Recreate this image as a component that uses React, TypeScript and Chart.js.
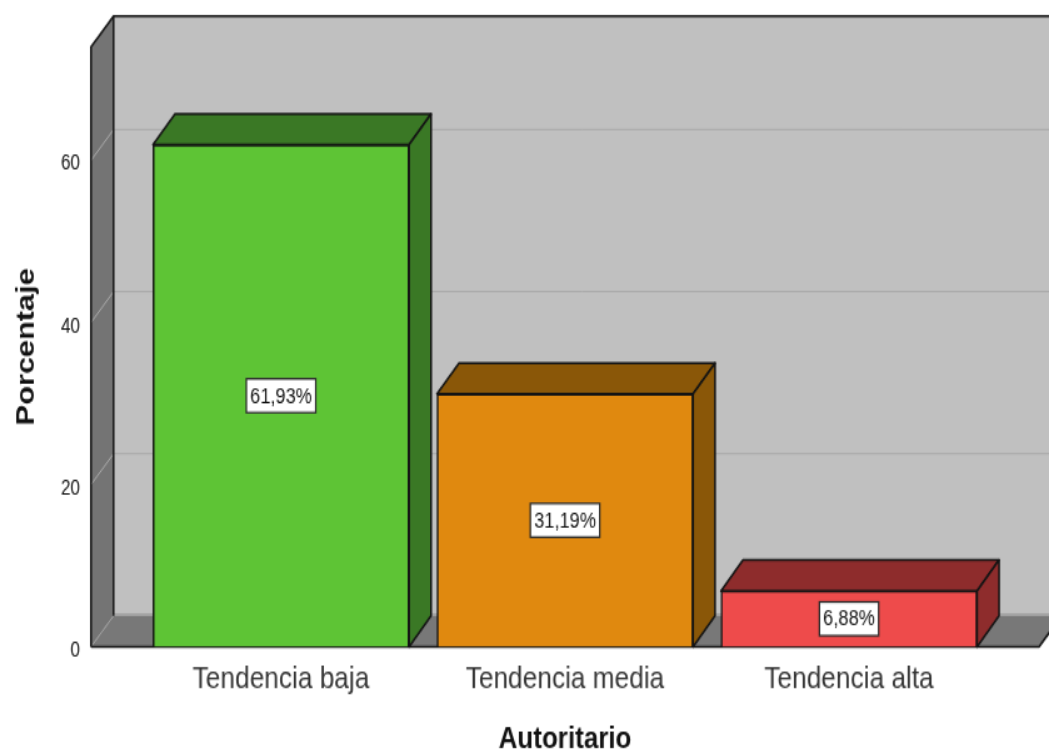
import React, { useEffect, useRef } from "react";
import { Chart, registerables } from "chart.js";

Chart.register(...registerables);

const categories = ["Tendencia baja", "Tendencia media", "Tendencia alta"];
const percentages = [61.93, 31.19, 6.88];
const frontColors = ["#5EC435", "#E0890F", "#EE4B4B"];
const sideColors = ["#3A7825", "#8A5708", "#8E2C2C"];
const yTickValues = [0, 20, 40, 60];
const xPositions = [0, 1, 2];

// The chart is drawn on a smaller canvas and stretched by CSS to the page size,
// which gives the same tall, soft look as the reference picture.
const CANVAS_W = 839;
const CANVAS_H = 501;
const DEPTH_X = 18;
const DEPTH_Y = 20.6;
const BAR_DEPTH_X = 17.6;
const FONT = '"Liberation Sans", Arial, sans-serif';

const poly = (ctx: CanvasRenderingContext2D, pts: number[][], fill: string | null, stroke?: string, lw = 1.5) => {
  ctx.beginPath();
  pts.forEach(([x, y], i) => (i ? ctx.lineTo(x, y) : ctx.moveTo(x, y)));
  if (fill) {
    ctx.closePath();
    ctx.fillStyle = fill;
    ctx.fill();
  }
  if (stroke) {
    ctx.strokeStyle = stroke;
    ctx.lineWidth = lw;
    ctx.lineJoin = "round";
    ctx.stroke();
  }
};

const box3d = {
  id: "box3d",
  beforeDraw(chart: any) {
    const { ctx, chartArea: a, scales } = chart;
    const { left: l, right: r, top: t, bottom: b } = a;
    const dx = DEPTH_X;
    const dy = DEPTH_Y;
    ctx.save();
    ctx.fillStyle = "#FFFFFF";
    ctx.fillRect(0, 0, chart.width, chart.height);
    poly(ctx, [[l + dx, t - dy], [r + dx, t - dy], [r + dx, b - dy], [l + dx, b - dy]], "#C0C0C0");
    poly(ctx, [[l, t], [l + dx, t - dy], [l + dx, b - dy], [l, b]], "#747474");
    poly(ctx, [[l, b], [l + dx, b - dy], [r + dx, b - dy], [r, b]], "#787878");
    ctx.fillStyle = "#9C9C9C";
    ctx.fillRect(l + dx, b - dy - 1.5, r - l, 1.5);
    for (const v of yTickValues) {
      if (v === 0) continue;
      const y = scales.y.getPixelForValue(v);
      poly(ctx, [[l, y], [l + dx, y - dy], [r + dx, y - dy]], null, "#ABABAB", 1);
    }
    poly(ctx, [[l, b], [l + dx, b - dy]], null, "#A0A0A0", 1);
    poly(ctx, [[l, b], [l, t], [l + dx, t - dy], [r + dx, t - dy]], null, "#141414", 1.5);
    poly(ctx, [[l + dx, t - dy], [l + dx, b - dy]], null, "#141414", 1.5);
    poly(ctx, [[l, b], [r, b], [r + dx, b - dy]], null, "#141414", 1.5);
    ctx.restore();
  },
  beforeDatasetsDraw(chart: any) {
    const { ctx } = chart;
    const dx = BAR_DEPTH_X;
    const dy = DEPTH_Y;
    ctx.save();
    chart.getDatasetMeta(0).data.forEach((bar: any, i: number) => {
      const x0 = bar.x - bar.width / 2;
      const x1 = bar.x + bar.width / 2;
      poly(ctx, [[x0, bar.y], [x0 + dx, bar.y - dy], [x1 + dx, bar.y - dy], [x1, bar.y]], sideColors[i], "#141414");
      poly(ctx, [[x1, bar.y], [x1 + dx, bar.y - dy], [x1 + dx, bar.base - dy], [x1, bar.base]], sideColors[i], "#141414");
    });
    ctx.restore();
  },
  afterDatasetsDraw(chart: any) {
    const { ctx } = chart;
    ctx.save();
    ctx.font = `14.6px ${FONT}`;
    ctx.textAlign = "center";
    ctx.textBaseline = "middle";
    chart.getDatasetMeta(0).data.forEach((bar: any, i: number) => {
      const text = percentages[i].toFixed(2).replace(".", ",") + "%";
      const w = ctx.measureText(text).width + 6;
      const h = 22.5;
      const cy = (bar.y + bar.base) / 2;
      ctx.fillStyle = "#FFFFFF";
      ctx.strokeStyle = "#2A2A2A";
      ctx.lineWidth = 1.25;
      ctx.fillRect(bar.x - w / 2, cy - h / 2, w, h);
      ctx.strokeRect(bar.x - w / 2, cy - h / 2, w, h);
      ctx.fillStyle = "#111111";
      ctx.fillText(text, bar.x, cy + 0.5);
    });
    ctx.restore();
  },
};

export default function App() {
  const ref = useRef<HTMLCanvasElement>(null);
  useEffect(() => {
    document.body.style.margin = "0";
    const chart = new Chart(ref.current as HTMLCanvasElement, {
      type: "bar",
      data: {
        datasets: [
          {
            label: "Porcentaje",
            data: xPositions.map((x, i) => ({ x, y: percentages[i] })),
            backgroundColor: frontColors,
            borderColor: "#141414",
            borderWidth: 1.5,
            barThickness: 204.8,
          },
        ],
      },
      options: {
        animation: false,
        responsive: false,
        layout: { padding: { top: 31.3, right: 8, bottom: 0, left: 0 } },
        plugins: { legend: { display: false }, tooltip: { enabled: false } },
        scales: {
          x: {
            type: "linear",
            offset: false,
            min: -0.669,
            max: 2.669,
            grid: { display: false },
            border: { display: false },
            afterFit: (s: any) => { s.height = 69.6; },
            afterBuildTicks: (s: any) => { s.ticks = xPositions.map((value) => ({ value })); },
            ticks: {
              padding: 1.5,
              maxRotation: 0,
              autoSkip: false,
              color: "#333333",
              font: { family: FONT, size: 21 },
              callback: (v: any) => categories[v as number],
            },
            title: {
              display: true,
              text: "Autoritario",
              color: "#111111",
              font: { family: FONT, size: 20.8, weight: "bold" },
              padding: { top: 0, bottom: -4.8 },
            },
          },
          y: {
            min: 0,
            max: 74,
            grid: { display: false },
            border: { display: false },
            afterFit: (s: any) => { s.width = 72.8; },
            afterBuildTicks: (s: any) => { s.ticks = yTickValues.map((value) => ({ value })); },
            ticks: {
              padding: 0.8,
              labelOffset: 2.6,
              color: "#111111",
              font: { family: FONT, size: 13.8 },
            },
            title: {
              display: true,
              text: "Porcentaje",
              color: "#111111",
              font: { family: FONT, size: 20.5, weight: "bold" },
              padding: { top: 9, bottom: 0 },
            },
          },
        },
      },
      plugins: [box3d],
    } as any);
    return () => chart.destroy();
  }, []);
  return (
    <canvas
      ref={ref}
      width={CANVAS_W}
      height={CANVAS_H}
      style={{ display: "block", width: "1049px", height: "751px" }}
    />
  );
}
